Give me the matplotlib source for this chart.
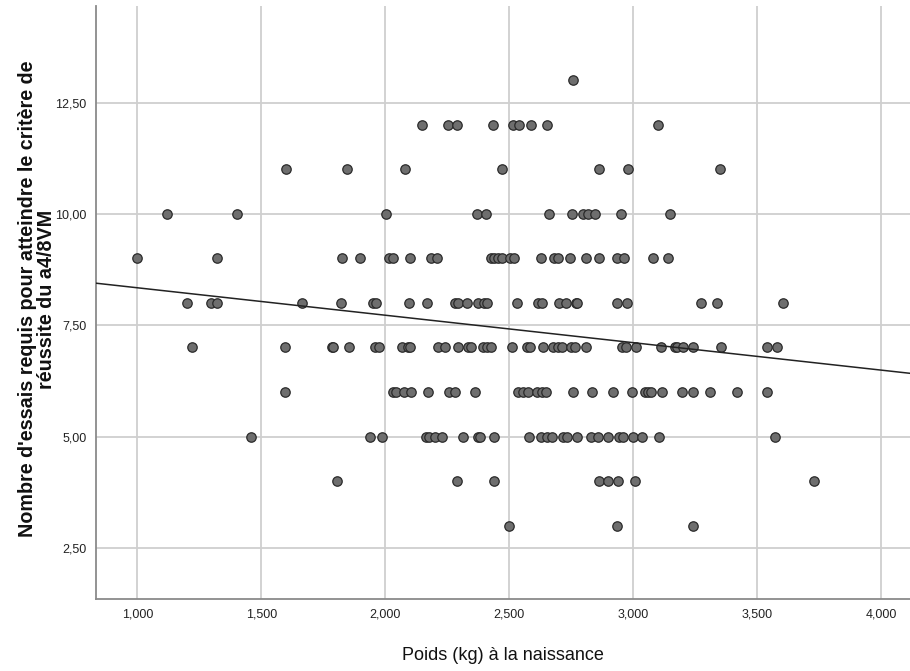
import numpy as np
import matplotlib
matplotlib.use("Agg")
import matplotlib.pyplot as plt
from matplotlib.ticker import FixedLocator

# Data: x = birth weight (grams), grouped by y value
rows = {
    13: [2758],
    12: [2149, 2254, 2290, 2435, 2514, 2540, 2589, 2651, 3100],
    11: [1600, 1844, 2079, 2469, 2863, 2980, 3348],
    10: [1120, 1401, 2004, 2369, 2405, 2660, 2754, 2796, 2819, 2846, 2949, 3149],
    9: [1000, 1321, 1825, 1899, 2016, 2030, 2100, 2183, 2210, 2425, 2440, 2455,
        2470, 2503, 2519, 2628, 2681, 2695, 2743, 2810, 2860, 2933, 2964, 3078, 3139],
    8: [1200, 1298, 1321, 1664, 1820, 1949, 1962, 2096, 2169, 2281, 2294, 2331,
        2375, 2399, 2409, 2530, 2614, 2631, 2702, 2729, 2769, 2774, 2933, 2973,
        3274, 3339, 3604],
    7: [1220, 1596, 1785, 1790, 1855, 1958, 1975, 2069, 2093, 2100, 2211, 2241,
        2294, 2332, 2344, 2395, 2409, 2425, 2510, 2570, 2583, 2637, 2677, 2698,
        2711, 2749, 2765, 2809, 2953, 2971, 3010, 3110, 3168, 3175, 3199, 3240,
        3354, 3538, 3578],
    6: [1596, 2032, 2043, 2077, 2102, 2171, 2257, 2281, 2362, 2534, 2554, 2574,
        2610, 2633, 2648, 2758, 2835, 2919, 2996, 3047, 3060, 3070, 3114, 3198,
        3240, 3309, 3419, 3538],
    5: [1460, 1938, 1985, 2164, 2177, 2200, 2227, 2312, 2375, 2382, 2440, 2581,
        2627, 2651, 2671, 2715, 2731, 2772, 2829, 2859, 2899, 2944, 2960, 3000,
        3036, 3104, 3573],
    4: [1805, 2290, 2440, 2863, 2898, 2938, 3008, 3729],
    3: [2500, 2934, 3242],
}

x_ticks = [1000, 1500, 2000, 2500, 3000, 3500, 4000]
x_tick_labels = ["1,000", "1,500", "2,000", "2,500", "3,000", "3,500", "4,000"]
y_ticks = [2.5, 5.0, 7.5, 10.0, 12.5]
y_tick_labels = ["2,50", "5,00", "7,50", "10,00", "12,50"]

xs = np.array([x for yv, lst in rows.items() for x in lst], dtype=float)
ys = np.array([yv for yv, lst in rows.items() for x in lst], dtype=float)

fig = plt.figure(figsize=(9.10, 6.71), dpi=100)
ax = fig.add_axes([96/910, 1-599/671, (910-96)/910, (599-6)/671])

ax.set_xlim(833.5, 4115.7)
ax.set_ylim(1.35, 14.67)

ax.xaxis.set_major_locator(FixedLocator(x_ticks))
ax.yaxis.set_major_locator(FixedLocator(y_ticks))
ax.set_xticklabels(x_tick_labels)
ax.set_yticklabels(y_tick_labels)

ax.grid(True, color="#cfcfcf", linewidth=1.3)
ax.set_axisbelow(True)

for s in ["top", "right"]:
    ax.spines[s].set_visible(False)
for s in ["left", "bottom"]:
    ax.spines[s].set_color("#8a8a8a")
    ax.spines[s].set_linewidth(1.3)

ax.tick_params(axis="both", length=0, pad=7, labelcolor="#222222")
for lab in ax.get_xticklabels() + ax.get_yticklabels():
    lab.set_fontfamily(["Liberation Sans Narrow", "Liberation Sans", "DejaVu Sans"])
    lab.set_fontsize(9)

ax.scatter(xs, ys, s=46, facecolor="#6e6e6e", edgecolor="#2a2a2a",
           linewidths=0.9, zorder=3)

# Linear fit line
slope, intercept = np.polyfit(xs, ys, 1)
xl = np.array(ax.get_xlim())
ax.plot(xl, intercept + slope*xl, color="#222222", linewidth=1.1, zorder=4)

ax.set_xlabel("Poids (kg) à la naissance",
              fontfamily=["Liberation Sans Narrow", "Liberation Sans", "DejaVu Sans"],
              fontsize=13, color="#111111")
ax.xaxis.set_label_coords((503-96)/814, -(655-599)/593)
ax.xaxis.label.set_va("center")

ax.set_ylabel("Nombre d'essais requis pour atteindre le critère de\nréussite du a4/8VM",
              fontfamily=["Liberation Sans", "DejaVu Sans"], fontweight="bold",
              fontsize=14.2, color="#111111", linespacing=1.0)
ax.yaxis.set_label_coords((37-96)/814, (599-299)/593)
ax.yaxis.label.set_va("center")

fig.savefig("out.png", dpi=100)
